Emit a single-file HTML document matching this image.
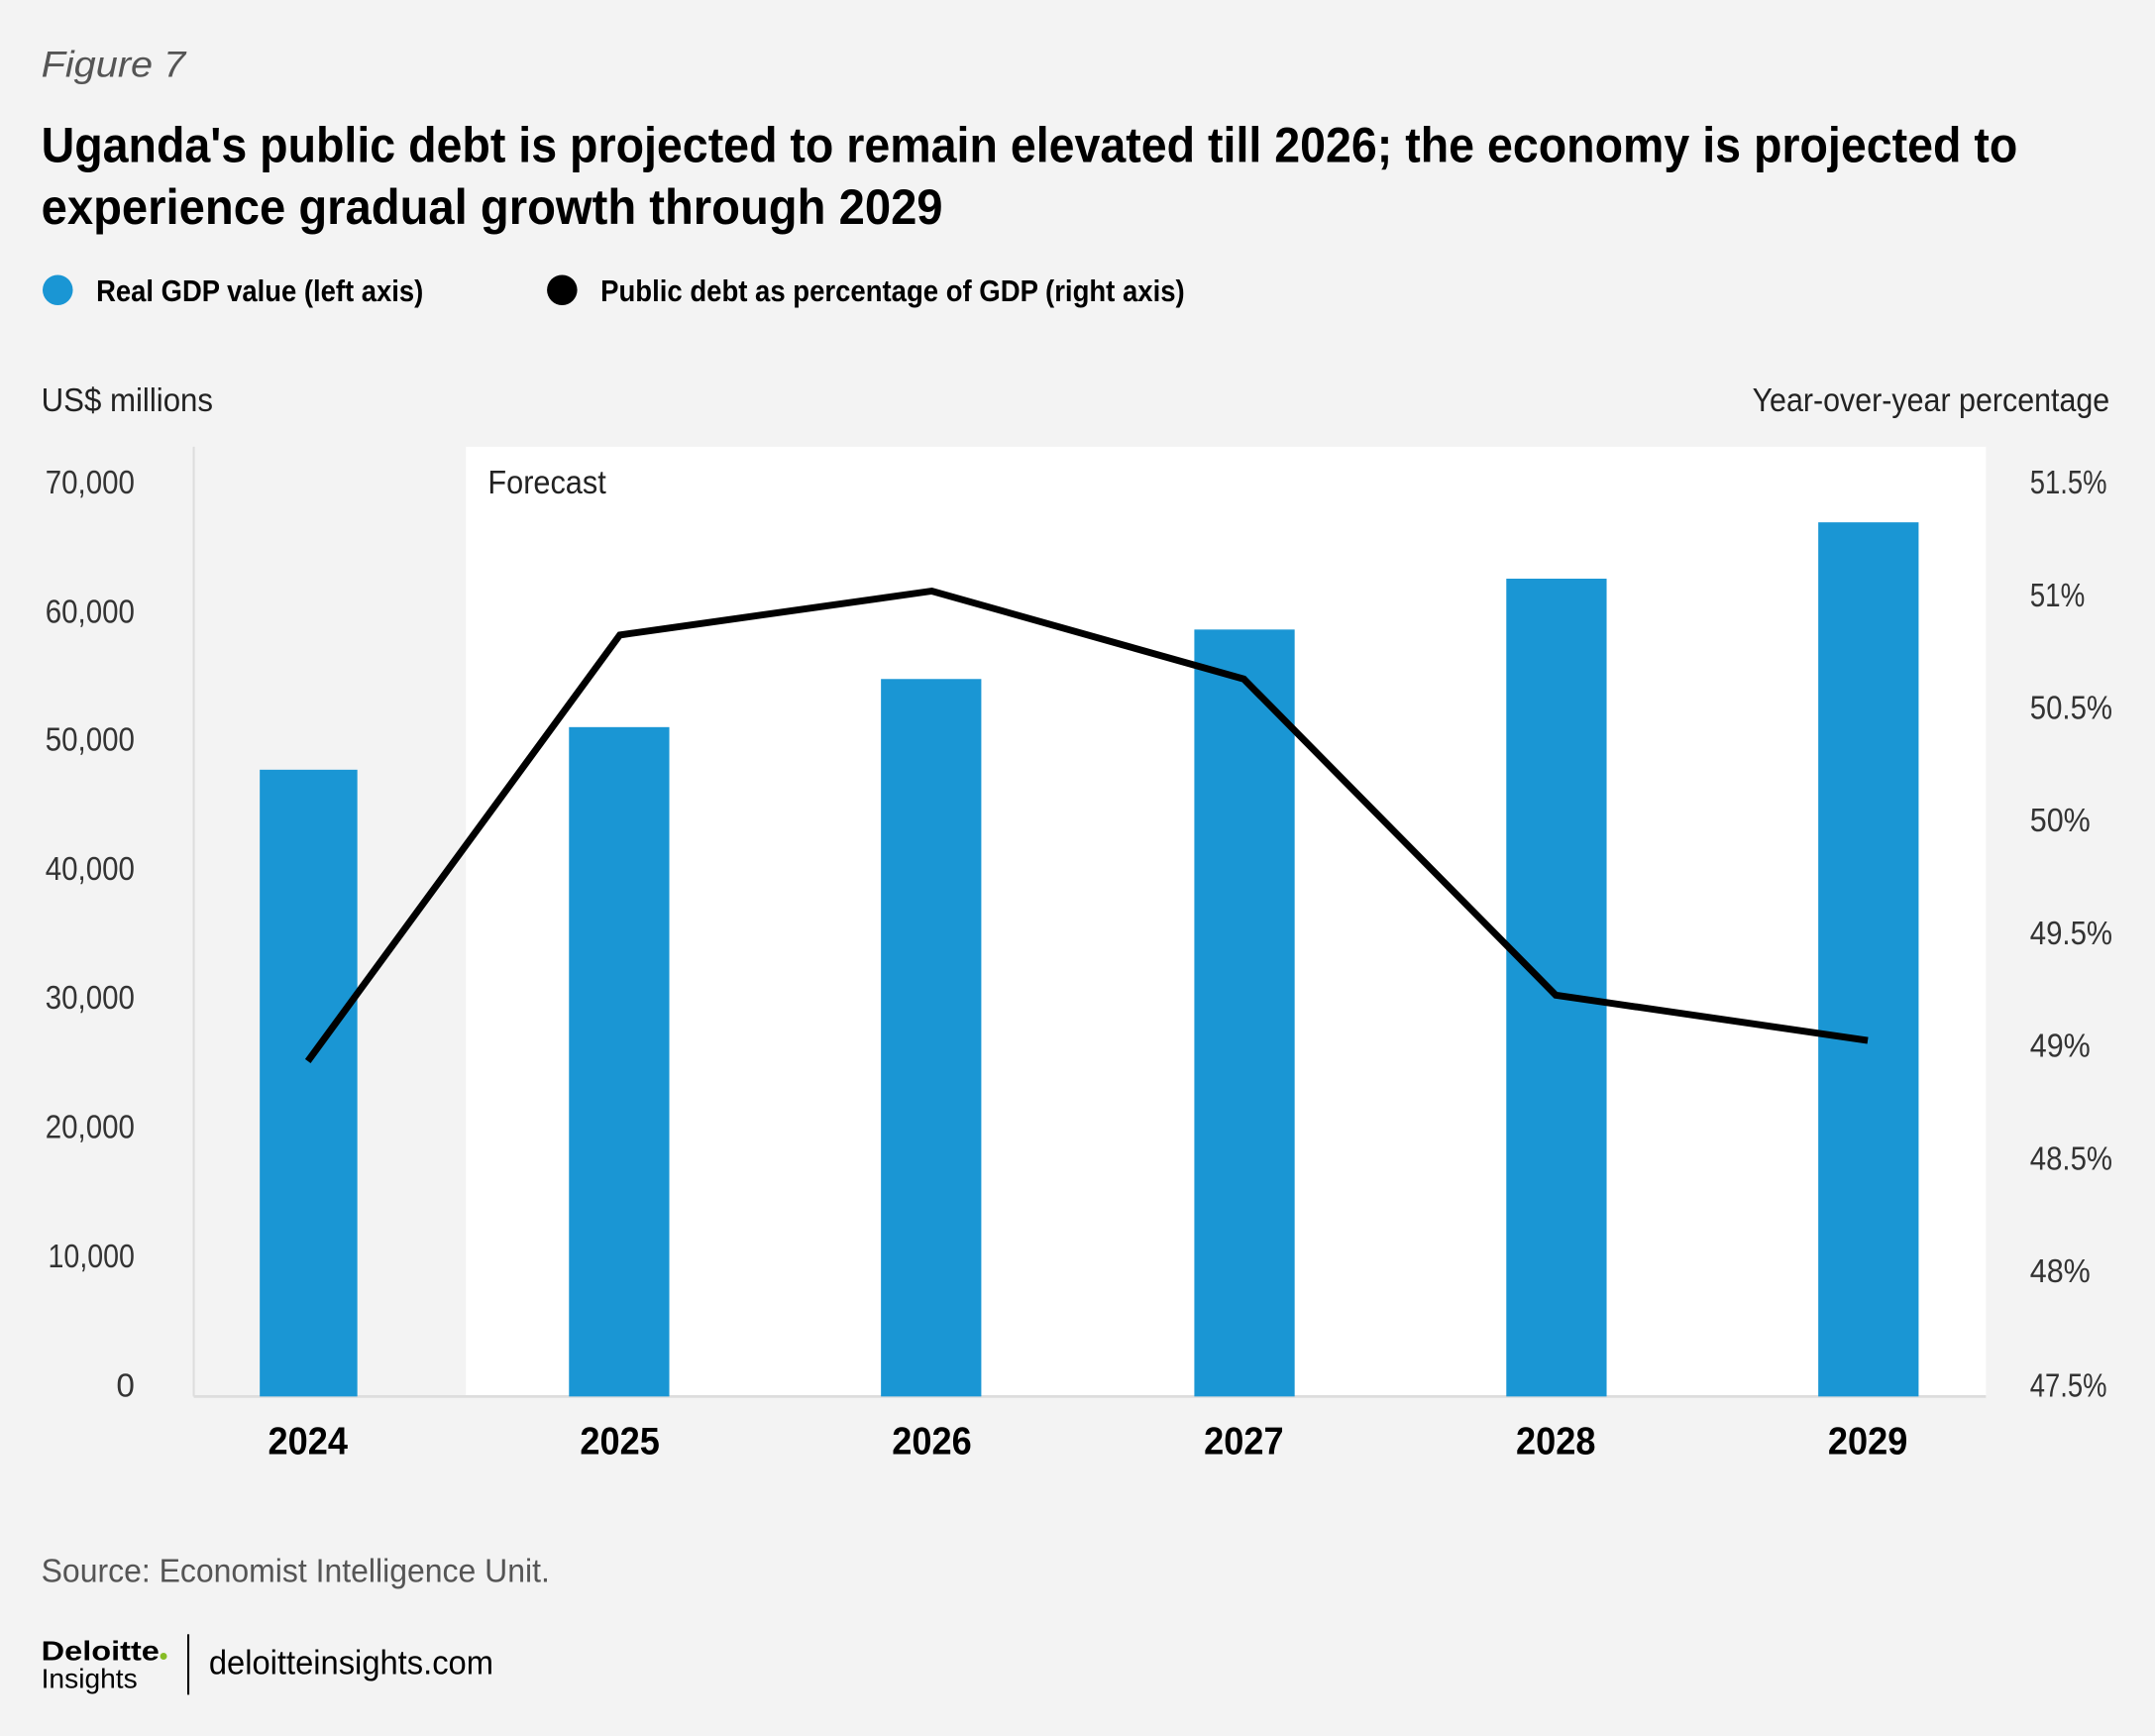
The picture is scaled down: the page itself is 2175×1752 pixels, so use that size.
<!DOCTYPE html>
<html><head><meta charset="utf-8"><style>
html,body{margin:0;padding:0;background:#f3f3f3;}
svg{display:block;}
text{font-family:"Liberation Sans Narrow","Liberation Sans",sans-serif;}
</style></head><body>
<svg width="2175" height="1752" viewBox="0 0 1568 1263" xmlns="http://www.w3.org/2000/svg">
<rect width="1568" height="1263" fill="#f3f3f3"/>
<text x="30" y="56" font-family="Liberation Serif, serif" font-style="italic" font-size="27" fill="#555" textLength="105" lengthAdjust="spacingAndGlyphs">Figure 7</text>
<text x="30" y="118" font-size="36" font-weight="bold" fill="#000" textLength="1438" lengthAdjust="spacingAndGlyphs">Uganda's public debt is projected to remain elevated till 2026; the economy is projected to</text>
<text x="30" y="163" font-size="36" font-weight="bold" fill="#000" textLength="656" lengthAdjust="spacingAndGlyphs">experience gradual growth through 2029</text>
<circle cx="42" cy="211" r="11" fill="#1a96d4"/>
<text x="70" y="219" font-size="22" font-weight="bold" fill="#000" textLength="238" lengthAdjust="spacingAndGlyphs">Real GDP value (left axis)</text>
<circle cx="409" cy="211" r="11" fill="#000"/>
<text x="437" y="219" font-size="22" font-weight="bold" fill="#000" textLength="425" lengthAdjust="spacingAndGlyphs">Public debt as percentage of GDP (right axis)</text>
<text x="30" y="299" font-size="24" fill="#222" textLength="125" lengthAdjust="spacingAndGlyphs">US$ millions</text>
<text x="1535" y="299" font-size="24" fill="#222" text-anchor="end" textLength="260" lengthAdjust="spacingAndGlyphs">Year-over-year percentage</text>
<rect x="339" y="325" width="1106" height="691" fill="#fff"/>
<line x1="141" y1="325" x2="141" y2="1016" stroke="#ddd" stroke-width="1.5"/>
<line x1="141" y1="1016" x2="1445" y2="1016" stroke="#ddd" stroke-width="2"/>
<text x="355" y="359" font-size="24" fill="#222" textLength="86" lengthAdjust="spacingAndGlyphs">Forecast</text>
<g font-size="24" fill="#333">
<text x="33" y="359" textLength="65" lengthAdjust="spacingAndGlyphs">70,000</text>
<text x="33" y="453" textLength="65" lengthAdjust="spacingAndGlyphs">60,000</text>
<text x="33" y="546" textLength="65" lengthAdjust="spacingAndGlyphs">50,000</text>
<text x="33" y="640" textLength="65" lengthAdjust="spacingAndGlyphs">40,000</text>
<text x="33" y="734" textLength="65" lengthAdjust="spacingAndGlyphs">30,000</text>
<text x="33" y="828" textLength="65" lengthAdjust="spacingAndGlyphs">20,000</text>
<text x="35" y="922" textLength="63" lengthAdjust="spacingAndGlyphs">10,000</text>
<text x="98" y="1016" text-anchor="end">0</text>
</g>
<g font-size="24" fill="#333">
<text x="1477" y="359" textLength="56" lengthAdjust="spacingAndGlyphs">51.5%</text>
<text x="1477" y="441" textLength="40" lengthAdjust="spacingAndGlyphs">51%</text>
<text x="1477" y="523" textLength="60" lengthAdjust="spacingAndGlyphs">50.5%</text>
<text x="1477" y="605" textLength="44" lengthAdjust="spacingAndGlyphs">50%</text>
<text x="1477" y="687" textLength="60" lengthAdjust="spacingAndGlyphs">49.5%</text>
<text x="1477" y="769" textLength="44" lengthAdjust="spacingAndGlyphs">49%</text>
<text x="1477" y="851" textLength="60" lengthAdjust="spacingAndGlyphs">48.5%</text>
<text x="1477" y="933" textLength="44" lengthAdjust="spacingAndGlyphs">48%</text>
<text x="1477" y="1016" textLength="56" lengthAdjust="spacingAndGlyphs">47.5%</text>
</g>
<g fill="#1a96d4">
<rect x="189" y="560" width="71" height="456"/>
<rect x="414" y="529" width="73" height="487"/>
<rect x="641" y="494" width="73" height="522"/>
<rect x="869" y="458" width="73" height="558"/>
<rect x="1096" y="421" width="73" height="595"/>
<rect x="1323" y="380" width="73" height="636"/>
</g>
<polyline points="224,772 451,462 678,430 905,494 1132,724 1359,757" fill="none" stroke="#000" stroke-width="5"/>
<g font-size="28" font-weight="bold" fill="#000" text-anchor="middle">
<text x="224" y="1058" textLength="58" lengthAdjust="spacingAndGlyphs">2024</text>
<text x="451" y="1058" textLength="58" lengthAdjust="spacingAndGlyphs">2025</text>
<text x="678" y="1058" textLength="58" lengthAdjust="spacingAndGlyphs">2026</text>
<text x="905" y="1058" textLength="58" lengthAdjust="spacingAndGlyphs">2027</text>
<text x="1132" y="1058" textLength="58" lengthAdjust="spacingAndGlyphs">2028</text>
<text x="1359" y="1058" textLength="58" lengthAdjust="spacingAndGlyphs">2029</text>
</g>
<text x="30" y="1151" font-size="24" fill="#555" textLength="370" lengthAdjust="spacingAndGlyphs">Source: Economist Intelligence Unit.</text>
<text x="30" y="1208" font-family="Liberation Sans, sans-serif" font-size="20" font-weight="bold" fill="#000" textLength="86" lengthAdjust="spacingAndGlyphs">Deloitte</text>
<circle cx="119" cy="1205" r="2.5" fill="#86bc25"/>
<text x="30" y="1228" font-size="20" fill="#000" textLength="70" lengthAdjust="spacingAndGlyphs">Insights</text>
<line x1="137" y1="1189" x2="137" y2="1233" stroke="#000" stroke-width="1.5"/>
<text x="152" y="1218" font-size="25" fill="#000" textLength="207" lengthAdjust="spacingAndGlyphs">deloitteinsights.com</text>
</svg>
</body></html>
